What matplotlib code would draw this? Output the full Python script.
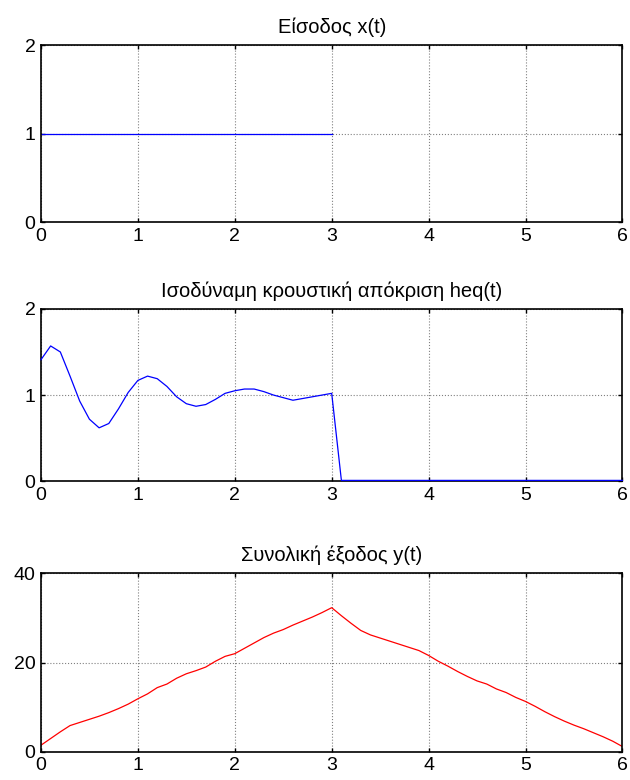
import matplotlib
matplotlib.use('Agg')
import matplotlib.pyplot as plt
import numpy as np

plt.rcParams['font.family'] = ['Liberation Sans', 'DejaVu Sans']

# t sampled every 0.1 s
t = np.round(np.arange(0, 6.01, 0.1), 1)

# input x(t): 1 on [0, 3]
t_in = [0.0, 3.0]
x_in = [1.0, 1.0]

# equivalent impulse response heq(t)
heq = [1.41, 1.57, 1.50, 1.22, 0.93, 0.72, 0.62, 0.67, 0.84, 1.03,
       1.17, 1.22, 1.19, 1.10, 0.98, 0.90, 0.87, 0.89, 0.95, 1.02,
       1.05, 1.07, 1.07, 1.04, 1.00, 0.97, 0.94, 0.96, 0.98, 1.00,
       1.02] + [0.01] * 30

# total output y(t)
y_out = [1.5, 3.0, 4.5, 5.9, 6.6, 7.3, 8.0, 8.8, 9.7, 10.7,
         11.9, 13.0, 14.4, 15.2, 16.5, 17.5, 18.2, 19.0, 20.3, 21.4,
         22.0, 23.2, 24.4, 25.6, 26.6, 27.4, 28.4, 29.3, 30.2, 31.2,
         32.3, 30.5, 28.8, 27.2, 26.2, 25.5, 24.8, 24.1, 23.4, 22.7,
         21.6, 20.3, 19.2, 18.0, 16.9, 15.9, 15.2, 14.1, 13.3, 12.2,
         11.3, 10.2, 9.0, 7.9, 6.9, 6.0, 5.2, 4.3, 3.4, 2.4,
         1.2]

titles = ['Είσοδος x(t)', 'Ισοδύναμη κρουστική απόκριση heq(t)', 'Συνολική έξοδος y(t)']
yticks = [[0, 1, 2], [0, 1, 2], [0, 20, 40]]
xticks = [0, 1, 2, 3, 4, 5, 6]

fig = plt.figure(figsize=(6.3, 7.8), dpi=100)
boxes = [[0.065, 0.715, 0.923, 0.227],
         [0.065, 0.383, 0.923, 0.221],
         [0.065, 0.036, 0.923, 0.229]]
axes = [fig.add_axes(b) for b in boxes]

axes[0].plot(t_in, x_in, color='blue', lw=0.9)
axes[1].plot(t, heq, color='blue', lw=0.9, clip_on=False, zorder=5)
axes[2].plot(t, y_out, color='red', lw=0.9)

for ax, title, yt in zip(axes, titles, yticks):
    ax.set_xlim(0, 6)
    ax.set_ylim(yt[0], yt[-1])
    ax.set_xticks(xticks)
    ax.set_yticks(yt)
    ax.set_title(title, fontsize=14.5, pad=8.5)
    ax.grid(True, color='#808080', linestyle=':', linewidth=0.8)
    ax.tick_params(direction='in', top=True, right=True, length=3,
                   width=1, labelsize=14)
    ax.tick_params(axis='x', pad=4)
    ax.tick_params(axis='y', pad=4)
    for s in ax.spines.values():
        s.set_linewidth(1.2)

fig.savefig('out.png', dpi=100)
